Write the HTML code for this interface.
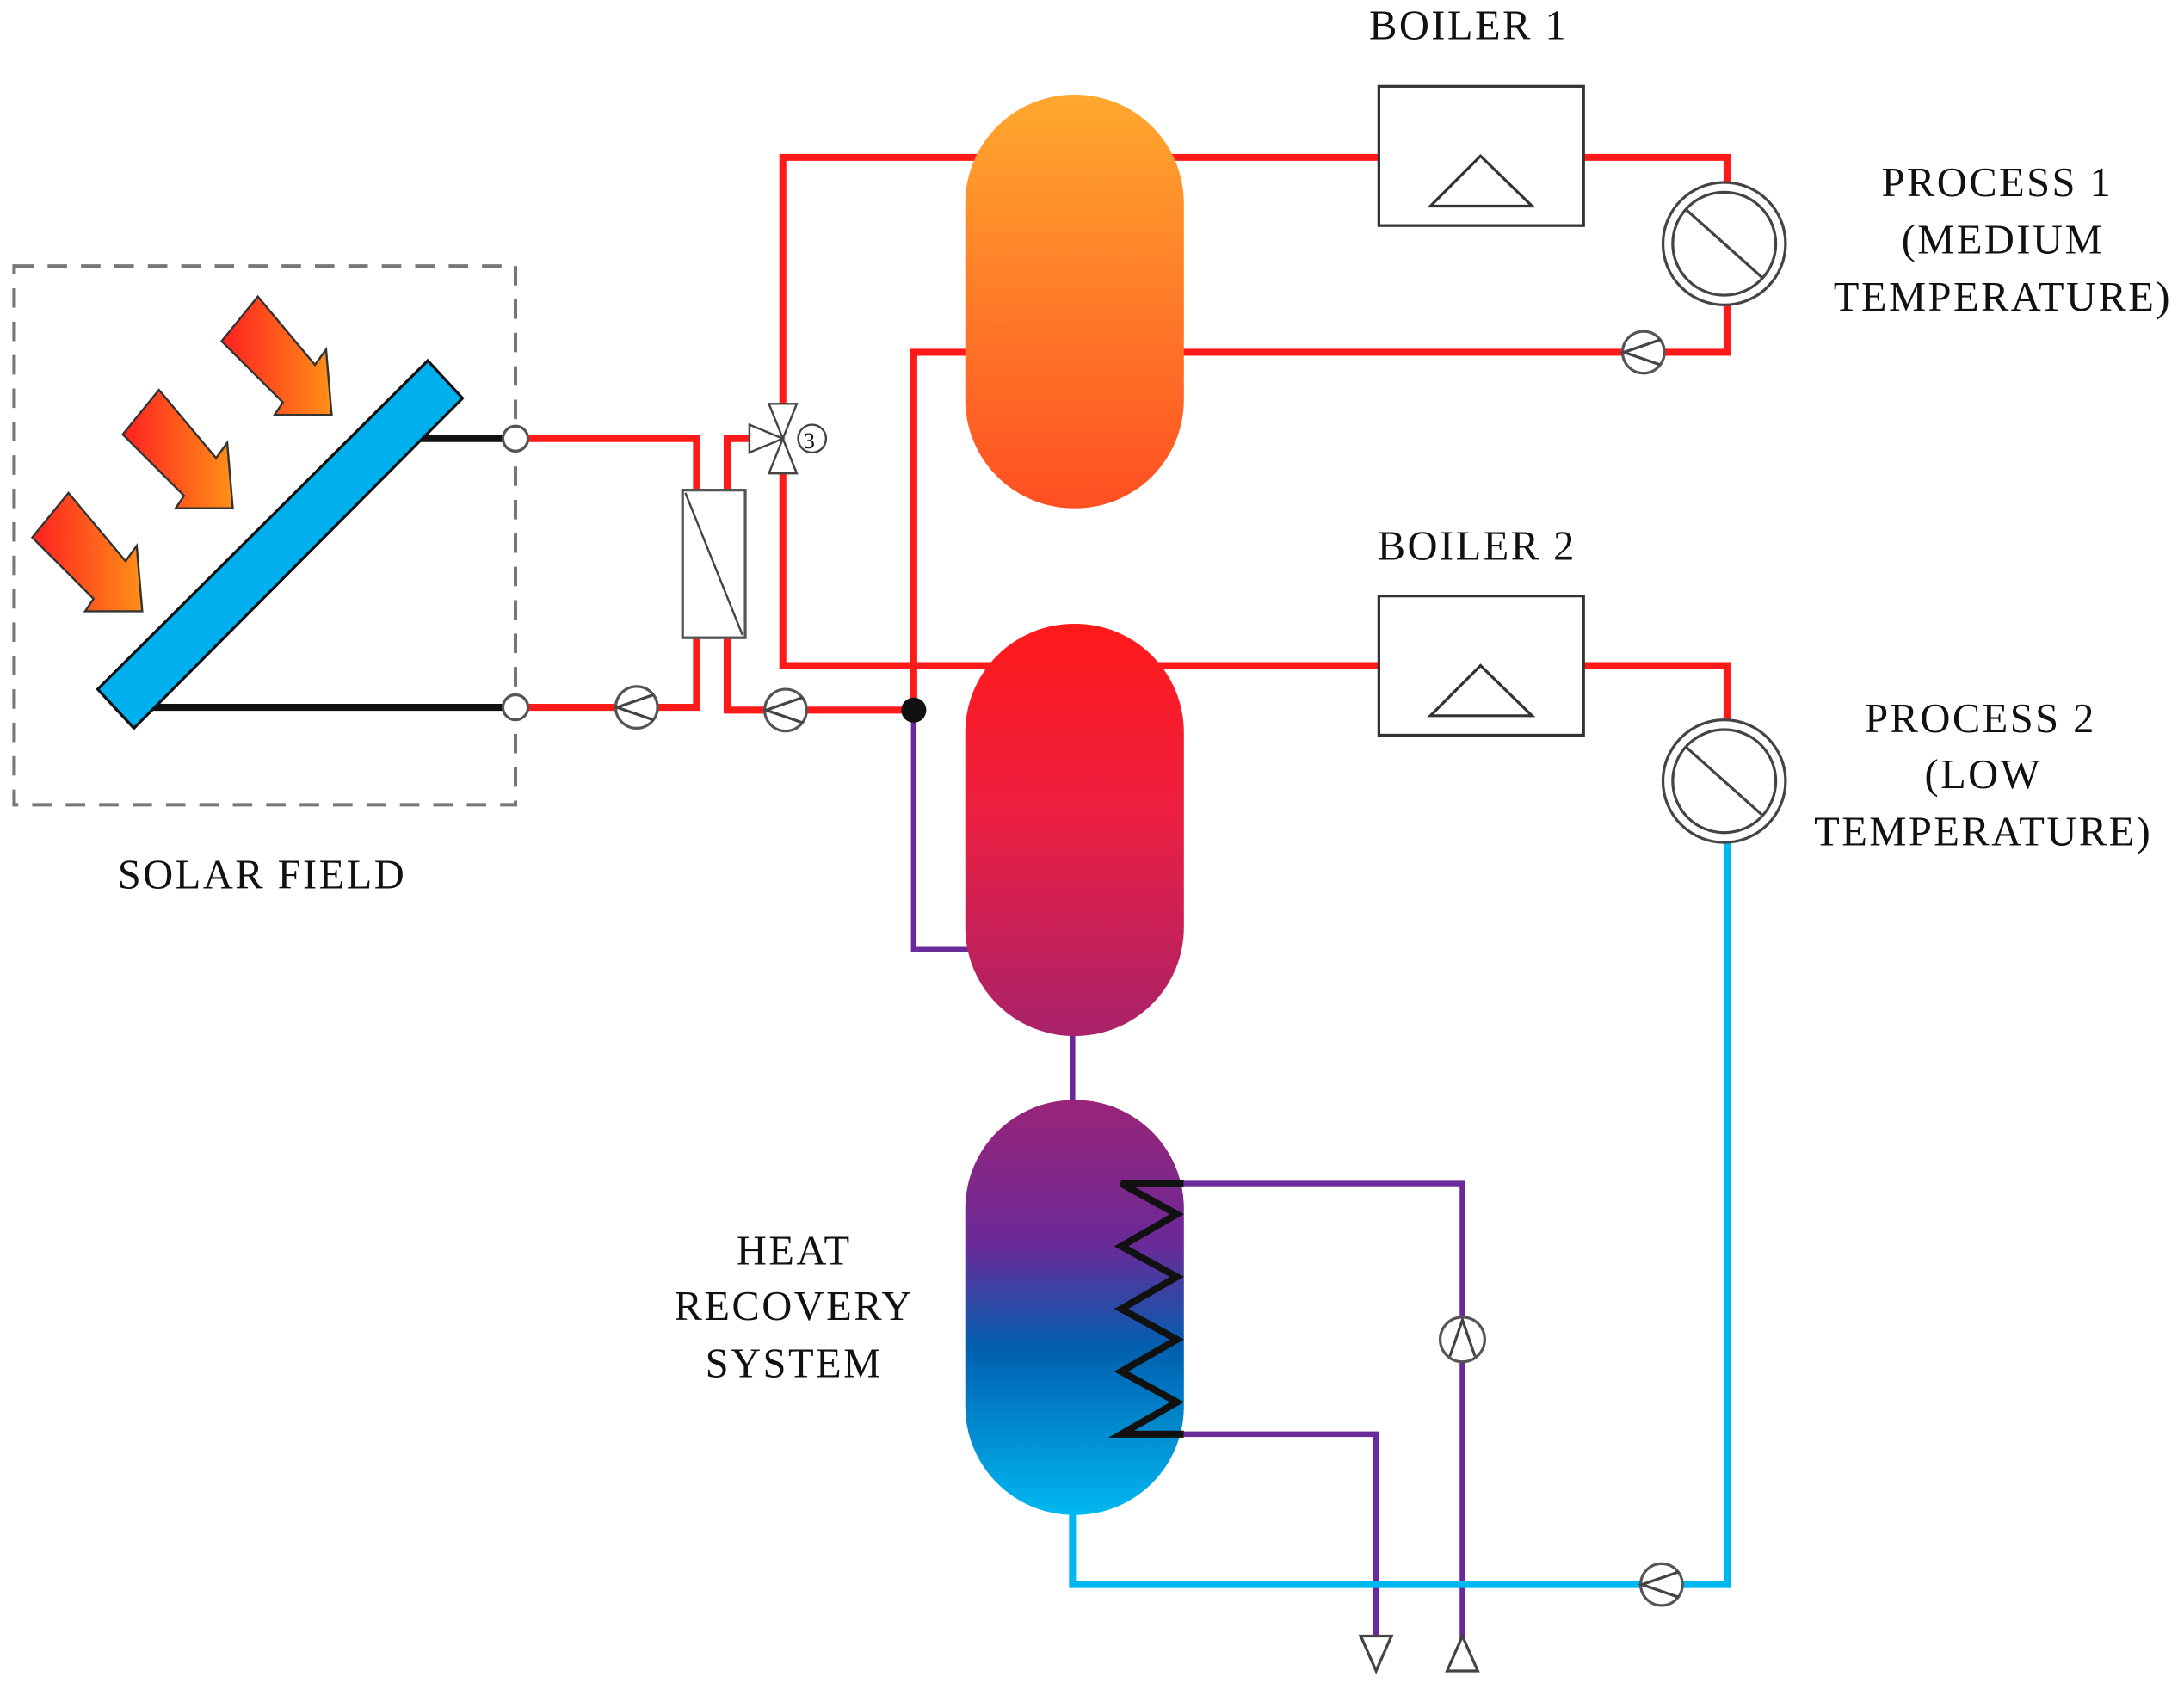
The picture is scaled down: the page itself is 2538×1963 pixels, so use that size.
<!DOCTYPE html>
<html><head><meta charset="utf-8"><style>
html,body{margin:0;padding:0;background:#fff;}
svg{display:block;}
text{font-family:"Liberation Serif",serif;font-size:30px;letter-spacing:1.5px;fill:#111;}
</style></head><body>
<svg width="2538" height="1963" viewBox="0 0 1568 1213" xmlns="http://www.w3.org/2000/svg">
<defs>
<linearGradient id="t1" x1="0" y1="0" x2="0" y2="1"><stop offset="0" stop-color="#ffa82e"/><stop offset="1" stop-color="#ff4f22"/></linearGradient>
<linearGradient id="t2" x1="0" y1="0" x2="0" y2="1"><stop offset="0" stop-color="#ff1a1a"/><stop offset="0.45" stop-color="#ee1f40"/><stop offset="1" stop-color="#a8226a"/></linearGradient>
<linearGradient id="t3" x1="0" y1="0" x2="0" y2="1"><stop offset="0" stop-color="#9a2478"/><stop offset="0.35" stop-color="#6a2a98"/><stop offset="0.6" stop-color="#0060b0"/><stop offset="1" stop-color="#00b8f0"/></linearGradient>
<linearGradient id="ar" x1="0" y1="0" x2="1" y2="0"><stop offset="0" stop-color="#ff2020"/><stop offset="1" stop-color="#ff9018"/></linearGradient>
<g id="pumpL"><circle r="15" fill="#fff" stroke="#555" stroke-width="2"/><polyline points="12,-9 -14,0 12,9" fill="none" stroke="#444" stroke-width="2"/></g>
<polygon id="arw" points="185,213 226,262 234,251 238,298 197,298 203,289 159,245" fill="url(#ar)" stroke="#333" stroke-width="1.5"/>
</defs>

<rect x="10" y="191" width="360" height="387" fill="none" stroke="#777" stroke-width="2.5" stroke-dasharray="14,10"/>

<use href="#arw"/>
<use href="#arw" x="-71" y="67"/>
<use href="#arw" x="-136" y="141"/>

<line x1="300" y1="315" x2="370" y2="315" stroke="#111" stroke-width="5"/>
<line x1="105" y1="508" x2="370" y2="508" stroke="#111" stroke-width="5"/>
<polygon points="307,259 332,286 96,523 70,495" fill="#00b0ee" stroke="#111" stroke-width="2"/>

<g fill="none" stroke="#ff1a1a" stroke-width="5">
<polyline points="370,315 500,315 500,355"/>
<polyline points="370,508 500,508 500,458"/>
<polyline points="522,355 522,315 545,315"/>
<polyline points="562,300 562,113 770,113"/>
<polyline points="562,330 562,478 770,478"/>
<polyline points="522,458 522,510 656,510"/>
<polyline points="656,510 656,253 770,253"/>
<polyline points="770,113 990,113"/>
<polyline points="1137,113 1240,113 1240,135"/>
<polyline points="1240,218 1240,253 770,253"/>
<polyline points="770,478 990,478"/>
<polyline points="1137,478 1240,478 1240,520"/>
</g>
<g fill="none" stroke="#6a2a9a" stroke-width="4">
<polyline points="656,510 656,682 770,682"/>
<line x1="770" y1="700" x2="770" y2="830"/>
<polyline points="850,850 1050,850 1050,1180"/>
<polyline points="850,1030 988,1030 988,1175"/>
</g>
<polyline points="1240,600 1240,1138 770,1138 770,1040" fill="none" stroke="#00b8f0" stroke-width="5"/>

<circle cx="370" cy="315" r="9" fill="#fff" stroke="#555" stroke-width="2"/>
<circle cx="370" cy="508" r="9" fill="#fff" stroke="#555" stroke-width="2"/>
<circle cx="656" cy="510" r="9" fill="#111"/>

<rect x="490" y="352" width="45" height="106" fill="#fff" stroke="#555" stroke-width="2"/>
<line x1="492" y1="354" x2="533" y2="456" stroke="#444" stroke-width="1.5"/>

<g stroke="#444" stroke-width="1.5" fill="#fff">
<polygon points="562,315 552,290 572,290"/>
<polygon points="562,315 552,340 572,340"/>
<polygon points="562,315 538,305 538,325"/>
<circle cx="583" cy="315" r="10"/>
</g>
<text x="577" y="322" style="font-size:16px;letter-spacing:0">3</text>

<use href="#pumpL" x="457" y="508"/>
<use href="#pumpL" x="564" y="510"/>
<use href="#pumpL" x="1180" y="253"/>
<use href="#pumpL" x="1193" y="1138"/>
<g transform="translate(1050,962)"><circle r="16" fill="#fff" stroke="#555" stroke-width="2"/><polyline points="-9,12 0,-14 9,12" fill="none" stroke="#444" stroke-width="2"/></g>
<polygon points="977,1175 999,1175 988,1200" fill="#fff" stroke="#444" stroke-width="2"/>
<polygon points="1039,1200 1061,1200 1050,1175" fill="#fff" stroke="#444" stroke-width="2"/>

<rect x="693" y="68" width="157" height="297" rx="78" fill="url(#t1)"/>
<rect x="693" y="448" width="157" height="296" rx="78" fill="url(#t2)"/>
<rect x="693" y="790" width="157" height="298" rx="78" fill="url(#t3)"/>
<polyline points="850,850 805,850 845,872 805,895 845,917 805,940 845,962 805,985 845,1007 805,1030 850,1030" fill="none" stroke="#111" stroke-width="5"/>

<rect x="990" y="62" width="147" height="100" fill="#fff" stroke="#333" stroke-width="2"/>
<polygon points="1027,148 1100,148 1063,112" fill="none" stroke="#333" stroke-width="2"/>
<rect x="990" y="428" width="147" height="100" fill="#fff" stroke="#333" stroke-width="2"/>
<polygon points="1027,514 1100,514 1063,478" fill="none" stroke="#333" stroke-width="2"/>

<g fill="#fff" stroke="#444" stroke-width="2">
<circle cx="1238" cy="175" r="44"/><circle cx="1238" cy="175" r="37"/>
<line x1="1210" y1="150" x2="1266" y2="200"/>
<circle cx="1238" cy="561" r="44"/><circle cx="1238" cy="561" r="37"/>
<line x1="1210" y1="536" x2="1266" y2="586"/>
</g>

<text x="983" y="28">BOILER 1</text>
<text x="989" y="402">BOILER 2</text>
<text x="1434" y="141" text-anchor="middle">PROCESS 1</text>
<text x="1438" y="182" text-anchor="middle">(MEDIUM</text>
<text x="1438" y="223" text-anchor="middle">TEMPERATURE)</text>
<text x="1422" y="526" text-anchor="middle">PROCESS 2</text>
<text x="1424" y="566" text-anchor="middle">(LOW</text>
<text x="1424" y="607" text-anchor="middle">TEMPERATURE)</text>
<text x="188" y="638" text-anchor="middle">SOLAR FIELD</text>
<text x="570" y="908" text-anchor="middle">HEAT</text>
<text x="570" y="948" text-anchor="middle">RECOVERY</text>
<text x="570" y="989" text-anchor="middle">SYSTEM</text>
</svg>
</body></html>
